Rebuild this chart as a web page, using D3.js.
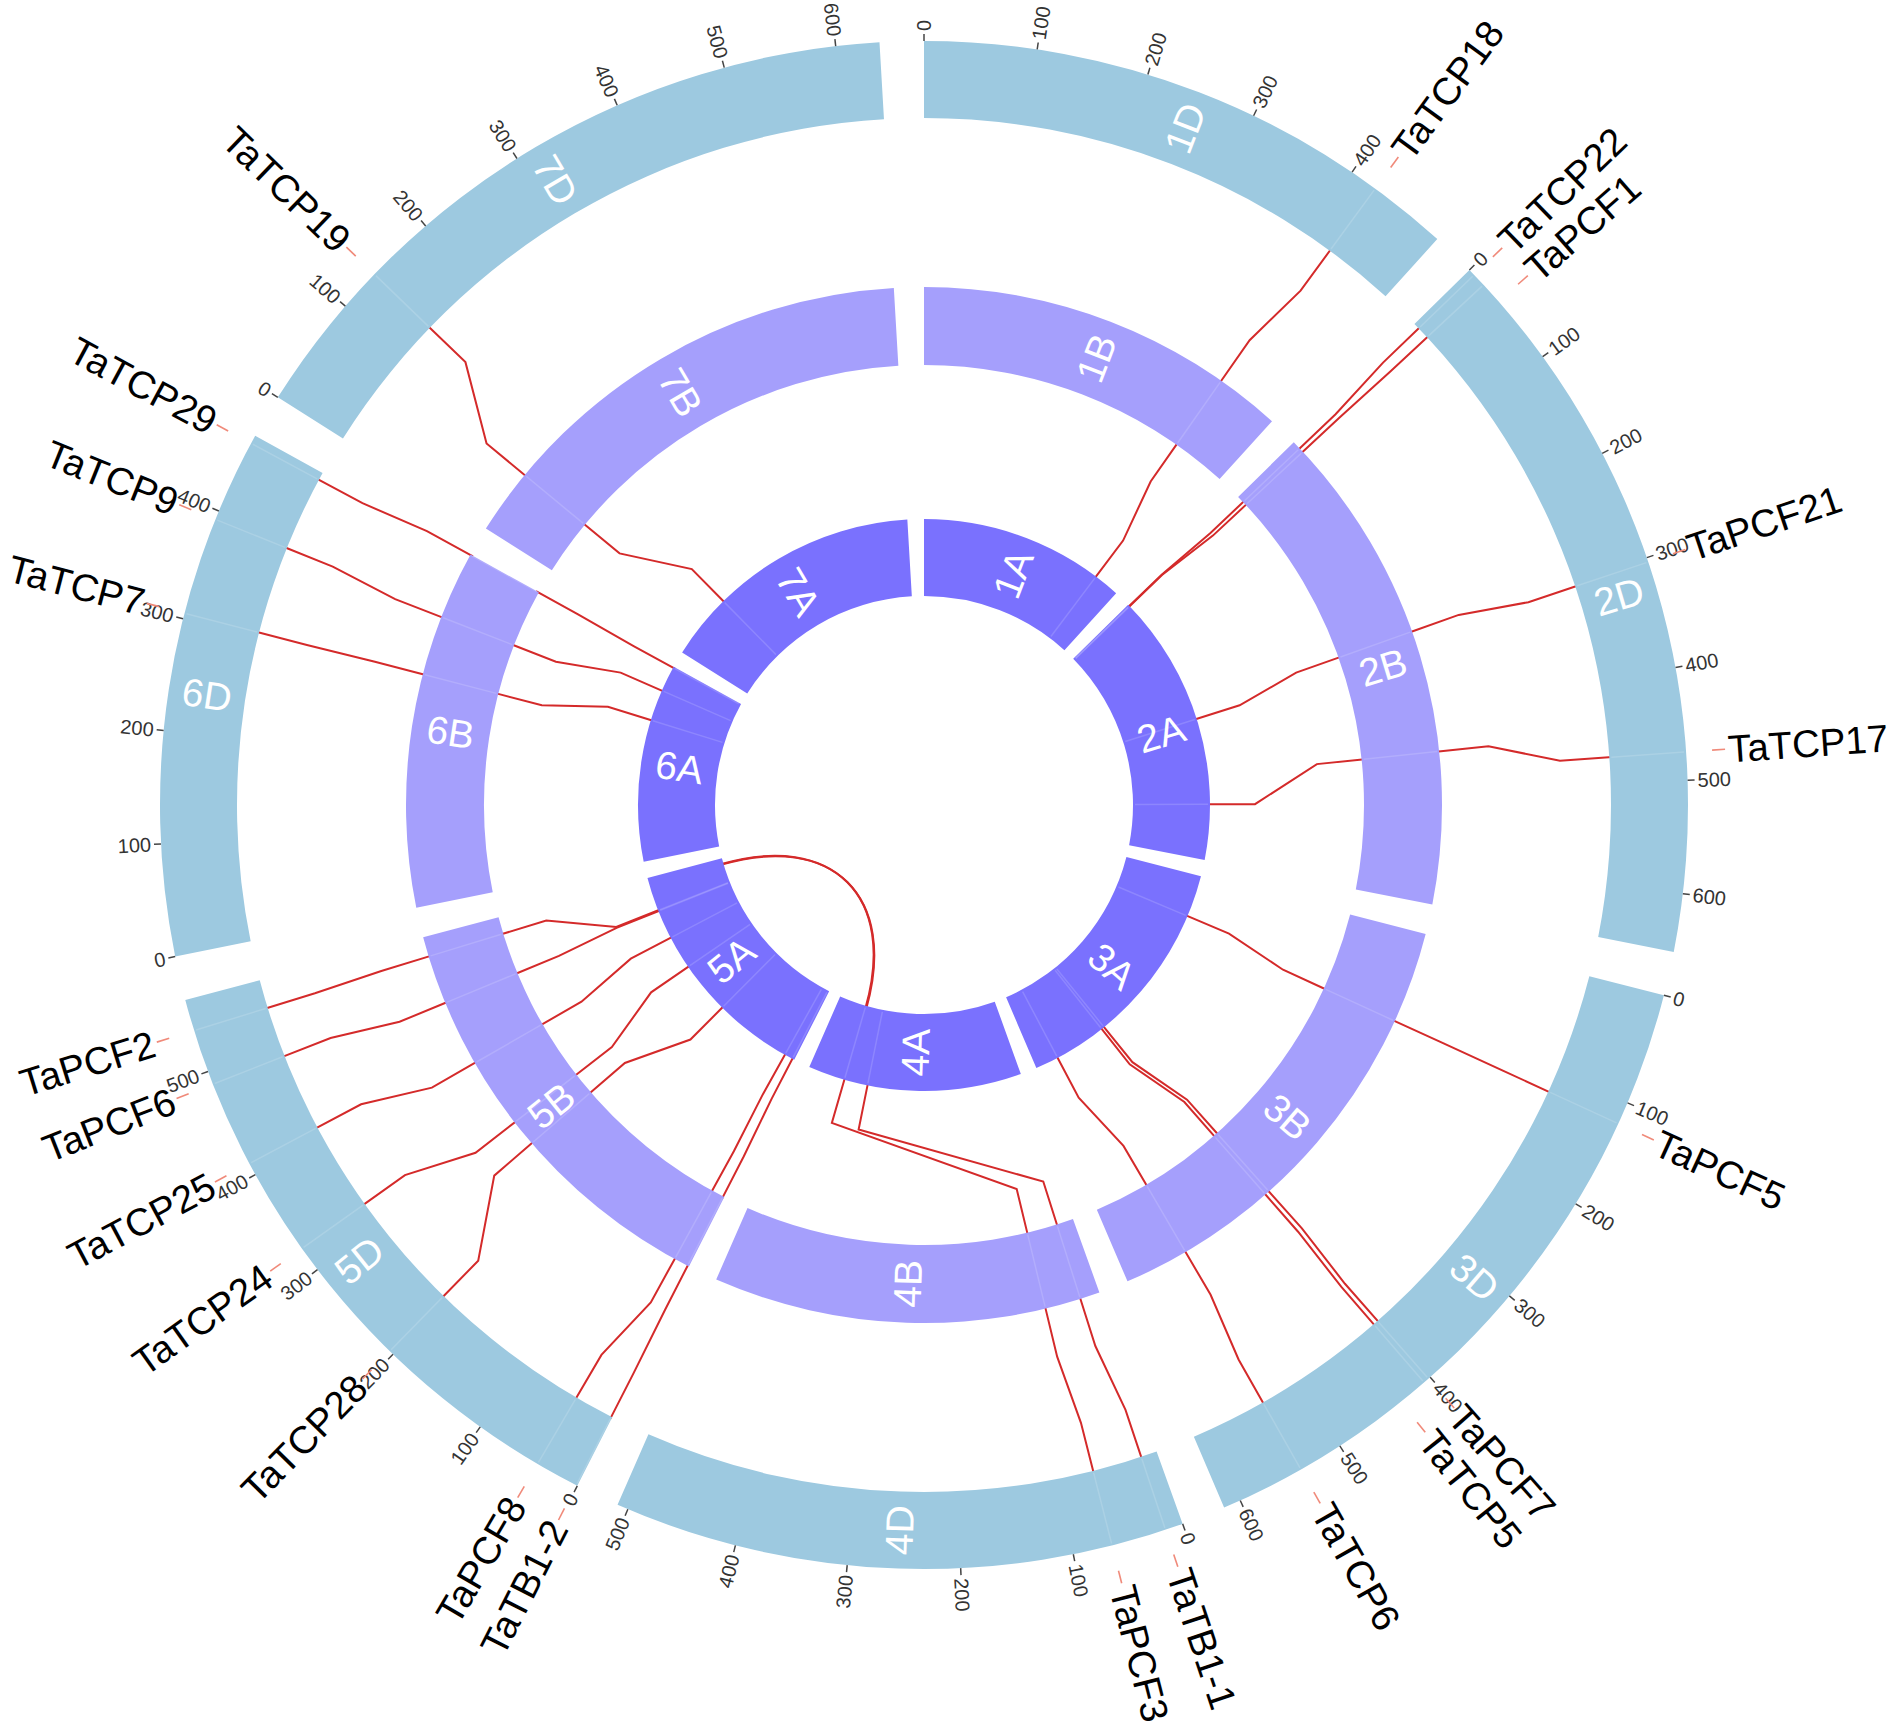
<!DOCTYPE html>
<html><head><meta charset="utf-8">
<script src="https://cdn.jsdelivr.net/npm/d3@7/dist/d3.min.js"></script>
<style>
body{margin:0;background:#fff}
svg{display:block}
text{font-family:"Liberation Sans",Arial,Helvetica,sans-serif}
</style>
</head><body>
<svg id="chart" width="1902" height="1736"></svg>
<script>
// ---------------- data ----------------
const chromosomes  = ["1","2","3","4","5","6","7"];
const chromLengths = [495.45, 651.85, 615.55, 509.86, 566.08, 473.59, 638.69]; // Mb (ring scale)
const subgenomes   = ["A","B","D"];            // inner -> outer
const tickStep     = 100;                      // Mb between axis ticks on the D ring

const geneNames = ["TaTCP18","TaTCP22","TaPCF1","TaPCF21","TaTCP17","TaPCF5","TaPCF7","TaTCP5","TaTCP6",
                   "TaTB1-1","TaPCF3","TaTB1-2","TaPCF8","TaTCP28","TaTCP24","TaTCP25","TaPCF6","TaPCF2",
                   "TaTCP7","TaTCP9","TaTCP29","TaTCP19"];
const geneChrom = ["1","2","2","2","2","3","3","3","3","4","4","5","5","5","5","5","5","5","6","6","6","7"];
const genePosA  = [434, 4, 5, 316, 520,  99, 429, 436, 560, 366, 422,  5, 25, 210, 335, 415, 484, 486, 337, 411, 471, 155];
const genePosB  = [411,11,17, 292, 452, 120, 397, 403, 531,  26,  73,  2, 21, 261, 296, 389, 476, 540, 306, 384, 473,  86];
const genePosD  = [425, 6,18, 304, 475, 120, 402, 407, 540,  16,  65,  1, 40, 204, 323, 411, 488, 538, 305, 392, 466, 138];

// A-genome copies sitting on 5A (4A/5A translocation), routed inside the circle to 4A
const transGenes   = ["TaTB1-1","TaPCF3"];
const transFromChr = ["5","5"];
const transFromPos = [547, 549];
const transToPos   = [418, 421];   // entry point on 4A

// ---------------- layout ----------------
const cx = 924, cy = 805;
const ringR = { A:[209,286], B:[440,518], D:[687,764] };
const ringColor = { A:"#7a71fe", B:"#a59ffc", D:"#9dc9e0" };
const gapDeg = 3.34;
const rad = d => d*Math.PI/180;
const totalLen = d3.sum(chromLengths);
const kRad = rad(360 - gapDeg*chromosomes.length) / totalLen;

const scales = {};
let acc = 0;
chromosomes.forEach((c,i)=>{
  const s = acc;
  const e = s + chromLengths[i]*kRad;
  scales[c] = d3.scaleLinear().domain([0, chromLengths[i]]).range([s, e]);
  acc = e + rad(gapDeg);
});
const ang = (c,p) => scales[c](p);
const pt = (t,r) => [cx + r*Math.sin(t), cy - r*Math.cos(t)];

const svg = d3.select("#chart");
const gLinks = svg.append("g");
const gRings = svg.append("g");
const gText  = svg.append("g");

const linkColor = "#d42a2a", linkWidth = 2;

// ---------------- links ----------------
const line = d3.line();
function seg(t1, r1, t2, r2){
  const d = r2 - r1;
  return [pt(t1,r1), pt(t1,r1+0.3*d), pt(t2,r1+0.7*d), pt(t2,r2)];
}
geneNames.forEach((g,i)=>{
  const c = geneChrom[i];
  const tA = ang(c, genePosA[i]), tB = ang(c, genePosB[i]), tD = ang(c, genePosD[i]);
  gLinks.append("path").attr("d", line(seg(tA, ringR.A[1]-3, tB, ringR.B[0]+3)))
    .attr("fill","none").attr("stroke",linkColor).attr("stroke-width",linkWidth);
  gLinks.append("path").attr("d", line(seg(tB, ringR.B[1]-3, tD, ringR.D[0]+3)))
    .attr("fill","none").attr("stroke",linkColor).attr("stroke-width",linkWidth);
});
transGenes.forEach((g,j)=>{
  const i = geneNames.indexOf(g);
  const t0 = ang(transFromChr[j], transFromPos[j]);
  const t1 = ang(geneChrom[i], transToPos[j]);
  const p = d3.path();
  const a = pt(t0, ringR.A[0]+3), b = pt(t0, 95), c2 = pt(t1, 95), e = pt(t1, ringR.A[0]+3);
  p.moveTo(a[0],a[1]);
  p.bezierCurveTo(b[0],b[1],c2[0],c2[1],e[0],e[1]);
  gLinks.append("path").attr("d", p.toString())
    .attr("fill","none").attr("stroke",linkColor).attr("stroke-width",linkWidth);
});

// ---------------- rings ----------------
const arc = d3.arc();
subgenomes.forEach(sg=>{
  chromosomes.forEach((c,i)=>{
    const [s,e] = scales[c].range();
    gRings.append("path")
      .attr("d", arc({innerRadius:ringR[sg][0], outerRadius:ringR[sg][1], startAngle:s, endAngle:e}))
      .attr("transform",`translate(${cx},${cy})`)
      .attr("fill", ringColor[sg]);
  });
});
// faint marks of gene positions across rings
geneNames.forEach((g,i)=>{
  const c = geneChrom[i];
  [["A",genePosA[i]],["B",genePosB[i]],["D",genePosD[i]]].forEach(([sg,p])=>{
    const t = ang(c,p);
    gRings.append("path").attr("d", line([pt(t,ringR[sg][0]+2), pt(t,ringR[sg][1]-2)]))
      .attr("stroke","#fff").attr("stroke-opacity",0.15).attr("stroke-width",1.5);
  });
});
// chromosome labels
subgenomes.forEach(sg=>{
  chromosomes.forEach((c,i)=>{
    const [s,e] = scales[c].range();
    const m = (s+e)/2, deg = m*180/Math.PI;
    const [x,y] = pt(m, (ringR[sg][0]+ringR[sg][1])/2);
    const rot = deg < 180 ? deg-90 : deg+90;
    gText.append("text").attr("transform",`translate(${x},${y}) rotate(${rot})`)
      .attr("text-anchor","middle").attr("dominant-baseline","central")
      .attr("fill","#fff").attr("font-size",39).text(c+sg);
  });
});

// ---------------- D ring axis ----------------
function radialText(g, t, r, txt, size, color){
  const deg = t*180/Math.PI;
  const flip = deg >= 180;
  const grp = g.append("g").attr("transform",`translate(${cx},${cy}) rotate(${deg-90}) translate(${r},0)`);
  grp.append("text").attr("transform", flip ? "rotate(180)" : null)
    .attr("text-anchor", flip ? "end" : "start").attr("dominant-baseline","central")
    .attr("font-size",size).attr("fill",color).text(txt);
}
chromosomes.forEach((c,i)=>{
  d3.range(0, chromLengths[i], tickStep).forEach(v=>{
    const t = ang(c,v);
    gText.append("path").attr("d", line([pt(t,ringR.D[1]), pt(t,ringR.D[1]+7)]))
      .attr("stroke","#444").attr("stroke-width",1.5);
    radialText(gText, t, ringR.D[1]+10, String(v), 20, "#333");
  });
});

// ---------------- gene labels ----------------
const minGap = rad(2.7);
const order = d3.range(geneNames.length).sort((a,b)=>ang(geneChrom[a],genePosD[a]) - ang(geneChrom[b],genePosD[b]));
let prev = -Infinity;
order.forEach(i=>{
  let t = ang(geneChrom[i], genePosD[i]);
  if (t < prev + minGap) t = prev + minGap;
  prev = t;
  gText.append("path").attr("d", line([pt(t,790), pt(t,803)]))
    .attr("stroke","#f08a7a").attr("stroke-width",1.6);
  radialText(gText, t, 806, geneNames[i], 38.5, "#000");
});
</script>
</body></html>
